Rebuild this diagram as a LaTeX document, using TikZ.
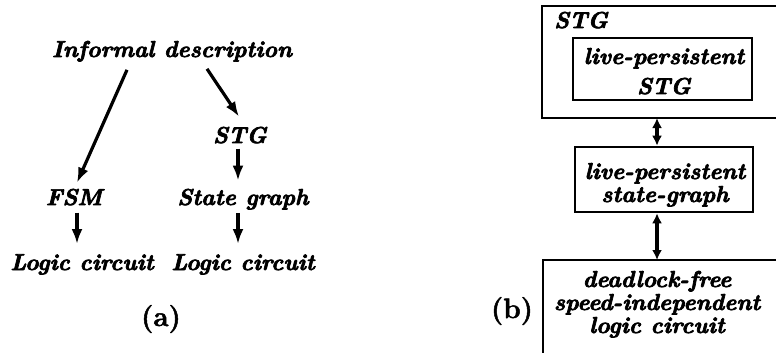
\documentclass[tikz,border=0pt]{standalone}
\usetikzlibrary{arrows.meta}
\newcommand{\heavytext}{\special{pdf:literal direct 2 Tr 0.7 w 1 j}}
\newcommand{\lblfont}{\fontsize{23}{23}\selectfont\bfseries\itshape\heavytext}
\newcommand{\capfont}{\fontsize{28}{28}\selectfont\bfseries\special{pdf:literal direct 2 Tr 0.5 w 1 j}}
\begin{document}
\begin{tikzpicture}[x=1pt,y=-1pt,
  lbl/.style={font=\lblfont, inner sep=0pt, anchor=base},
  subcap/.style={font=\capfont, inner sep=0pt, anchor=base},
  arr/.style={line width=3.2pt, -{Latex[length=15pt,width=11pt]}},
  darr/.style={line width=3.2pt, {Latex[length=10pt,width=10pt]}-{Latex[length=10pt,width=10pt]}},
  boxline/.style={line width=2.6pt},
  box/.style={draw, line width=2.6pt, inner sep=0pt}]
\useasboundingbox (0,0) rectangle (776,353);
% ---------- (a) ----------
\node[lbl] (inf) at (172,57) {Informal description};
\node[lbl] (stg) at (240,143) {STG};
\node[lbl] (fsm) at (74,205) {FSM};
\node[lbl] (sg)  at (243,205) {State graph};
\node[lbl] (lc1) at (82,270) {Logic circuit};
\node[lbl] (lc2) at (243,270) {Logic circuit};
\node[subcap] (capa) at (161,326) {(a)};
\draw[arr] ([shift={(-45,8)}]inf.south) -- ([shift={(3,-6)}]fsm.north);
\draw[arr] ([shift={(35,7)}]inf.south) -- ([shift={(-1,-10)}]stg.north);
\draw[arr] ([shift={(-2,5)}]stg.south) -- ([shift={(-5,-8)}]sg.north);
\draw[arr] ([shift={(3,7)}]fsm.south) -- ([shift={(-5,-10)}]lc1.north);
\draw[arr] ([shift={(-5,3)}]sg.south) -- ([shift={(-5,-10)}]lc2.north);
% ---------- (b) ----------
\draw[boxline] (790,6) -- (542,6) -- (542,118) -- (790,118);
\node[lbl, anchor=base west] (outlbl) at (554,28) {STG};
\node[box, minimum width=179pt, minimum height=62pt] (inner) at (662.5,69) {};
\node[lbl, align=center] (innertxt) at (664,94) {live-persistent\\[7pt]STG};
\node[box, minimum width=178pt, minimum height=65pt] (mid) at (664,179.5) {};
\node[lbl, align=center] (midtxt) at (665,202) {live-persistent\\state-graph};
\draw[boxline] (790,260) -- (543,260) -- (543,365);
\node[lbl, align=center] (bot) at (657,333)
  {deadlock-free\\speed-independent\\logic circuit};
\node[subcap] (capb) at (512,318) {(b)};
\coordinate (outerbot) at (657,118);
\coordinate (bottop) at (657,260);
\draw[darr] (outerbot) -- (outerbot |- mid.north);
\draw[darr] (mid.south -| outerbot) -- (bottop);
\end{tikzpicture}
\end{document}
